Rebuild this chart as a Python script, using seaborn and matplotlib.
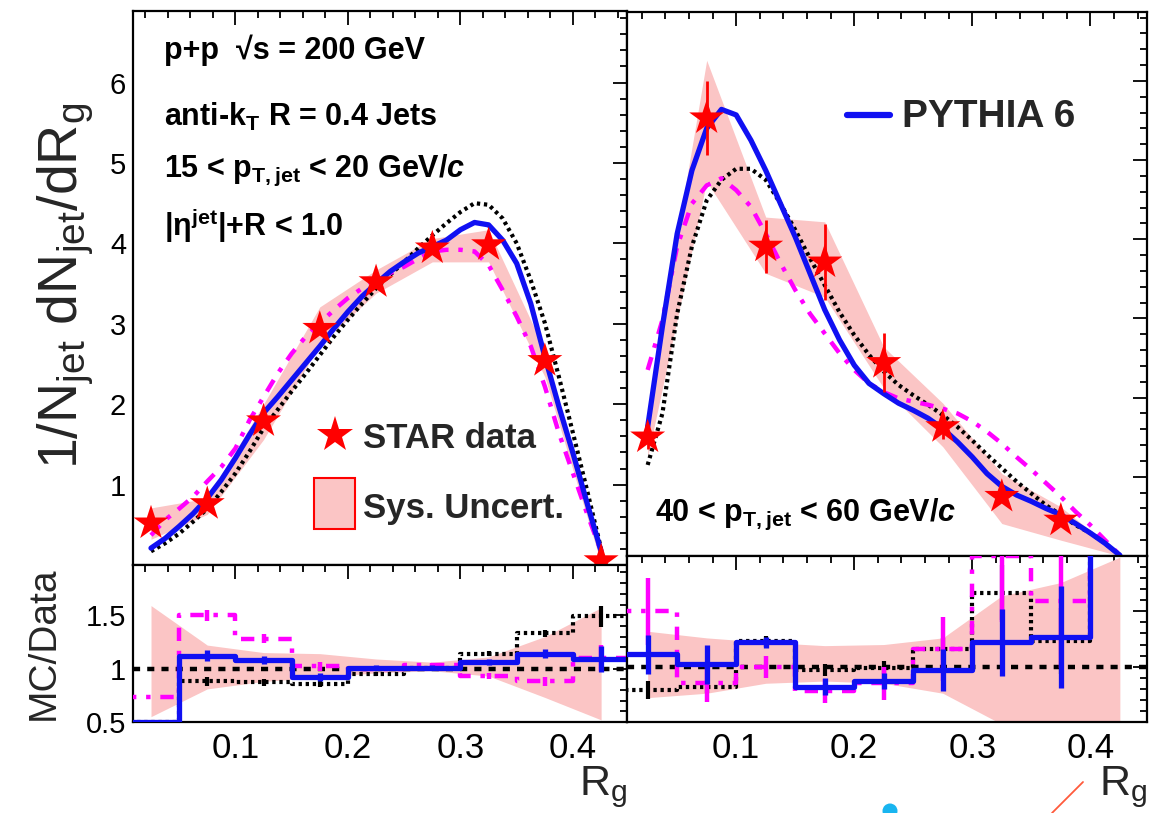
import numpy as np
import pandas as pd
import matplotlib
matplotlib.use("Agg")
import matplotlib.pyplot as plt
import seaborn as sns
from matplotlib.patches import Rectangle, Ellipse
from matplotlib.lines import Line2D
from matplotlib.ticker import MultipleLocator, FixedLocator

# ------------------------------------------------------------------ data
rg_centers = [0.025, 0.075, 0.125, 0.175, 0.225, 0.275, 0.325, 0.375, 0.425]
rg_edges = [0.0, 0.05, 0.10, 0.15, 0.20, 0.25, 0.30, 0.35, 0.40, 0.45]
curve_rg = [0.025, 0.0375, 0.05, 0.0625, 0.075, 0.0875, 0.10, 0.1125,
            0.125, 0.1375, 0.15, 0.1625, 0.175, 0.1875, 0.20, 0.2125,
            0.225, 0.2375, 0.25, 0.2625, 0.275, 0.2875, 0.30, 0.3125,
            0.325, 0.3375, 0.35, 0.3625, 0.375, 0.3875, 0.40, 0.4125, 0.425]

# 15 < pT < 20 GeV/c
low_star = [0.52, 0.76, 1.79, 2.94, 3.52, 3.94, 3.98, 2.54, 0.05]
low_stat = [0.03, 0.03, 0.04, 0.05, 0.05, 0.05, 0.06, 0.05, 0.02]
low_sys_lo = [0.32, 0.63, 1.56, 2.74, 3.38, 3.77, 3.77, 2.34, 0.02]
low_sys_hi = [0.71, 0.83, 2.00, 3.21, 3.67, 4.06, 4.17, 2.67, 0.08]
low_pythia6 = [0.21, 0.33, 0.48, 0.64, 0.83, 1.06, 1.33, 1.62, 1.89, 2.09,
               2.30, 2.51, 2.72, 2.94, 3.15, 3.34, 3.50, 3.65, 3.77, 3.88,
               3.96, 4.04, 4.17, 4.26, 4.23, 4.04, 3.75, 3.25, 2.59, 1.97,
               1.39, 0.77, 0.17]
low_black = [0.17, 0.27, 0.39, 0.54, 0.70, 0.91, 1.14, 1.41, 1.70, 1.93,
             2.16, 2.38, 2.61, 2.84, 3.05, 3.25, 3.44, 3.61, 3.77, 3.94,
             4.10, 4.25, 4.39, 4.50, 4.48, 4.31, 4.00, 3.54, 3.01, 2.34,
             1.64, 0.93, 0.20]
low_magenta = [0.37, 0.56, 0.70, 0.85, 1.04, 1.22, 1.45, 1.80, 2.09, 2.38,
               2.63, 2.84, 3.01, 3.17, 3.32, 3.44, 3.54, 3.63, 3.71, 3.81,
               3.90, 3.92, 3.92, 3.90, 3.73, 3.42, 3.09, 2.72, 2.22, 1.64,
               1.14, 0.64, 0.17]

low_ratio_pythia6 = [0.50, 1.12, 1.08, 0.92, 1.01, 1.01, 1.06, 1.14, 1.09]
low_ratio_black = [0.50, 0.88, 0.87, 0.86, 0.95, 1.01, 1.14, 1.33, 1.49]
low_ratio_magenta = [0.73, 1.50, 1.28, 1.02, 1.00, 1.03, 0.93, 0.88, 1.10]
low_ratio_err = [0.00, 0.05, 0.04, 0.04, 0.02, 0.02, 0.03, 0.04, 0.12]
low_ratio_band_lo = [0.55, 0.81, 0.88, 0.92, 0.96, 0.98, 0.93, 0.73, 0.52]
low_ratio_band_hi = [1.59, 1.22, 1.15, 1.14, 1.09, 1.06, 1.11, 1.30, 1.57]

# 40 < pT < 60 GeV/c
high_star = [1.50, 5.53, 3.91, 3.71, 2.44, 1.63, 0.75, 0.45]
high_stat = [0.15, 0.47, 0.33, 0.48, 0.37, 0.15, 0.06, 0.05]
high_sys_lo = [1.25, 4.73, 3.57, 3.27, 2.12, 1.38, 0.41, 0.20, 0.00]
high_sys_hi = [1.85, 6.26, 4.28, 4.22, 2.64, 1.93, 1.04, 0.62, 0.02]
high_pythia6 = [1.63, 2.90, 4.07, 4.87, 5.40, 5.64, 5.57, 5.25, 4.87, 4.45,
                4.03, 3.57, 3.11, 2.73, 2.41, 2.18, 2.05, 1.93, 1.84, 1.74,
                1.61, 1.44, 1.25, 1.04, 0.88, 0.77, 0.69, 0.60, 0.52, 0.41,
                0.29, 0.16, 0.01]
high_black = [1.15, 1.80, 3.06, 3.91, 4.49, 4.75, 4.89, 4.89, 4.75, 4.45,
              4.12, 3.76, 3.42, 3.08, 2.79, 2.54, 2.33, 2.16, 2.03, 1.91,
              1.78, 1.63, 1.46, 1.28, 1.11, 0.94, 0.79, 0.64, 0.52, 0.39,
              0.29, 0.16, 0.01]
high_magenta = [2.35, 2.98, 3.91, 4.45, 4.68, 4.77, 4.62, 4.41, 4.07, 3.70,
                3.36, 3.06, 2.81, 2.56, 2.35, 2.18, 2.07, 1.99, 1.95, 1.91,
                1.86, 1.80, 1.70, 1.57, 1.42, 1.25, 1.09, 0.92, 0.75, 0.56,
                0.39, 0.20, 0.01]

high_ratio_pythia6 = [1.11, 1.02, 1.22, 0.82, 0.87, 0.97, 1.22, 1.27, 2.30]
high_ratio_black = [0.79, 0.82, 1.23, 0.97, 0.99, 1.16, 1.67, 1.23, 2.30]
high_ratio_magenta = [1.50, 0.85, 1.00, 0.78, 0.85, 1.16, 2.00, 1.59, 2.30]
high_ratio_err_p6 = [0.18, 0.18, 0.05, 0.08, 0.07, 0.19, 0.30, 0.46, 0.0]
high_ratio_err_mag = [0.30, 0.17, 0.10, 0.11, 0.15, 0.29, 0.60, 0.60, 0.0]
high_ratio_err_black = [0.08, 0.06, 0.05, 0.05, 0.06, 0.10, 0.25, 0.30, 0.0]
high_ratio_band_lo = [0.72, 0.76, 0.85, 0.87, 0.85, 0.76, 0.48, 0.30, 0.10]
high_ratio_band_hi = [1.32, 1.26, 1.22, 1.19, 1.20, 1.26, 1.64, 1.76, 1.99]

# ------------------------------------------------------------------ style
sns.set_theme(style="white")
plt.rcParams['font.family'] = ['Liberation Sans', 'DejaVu Sans']
plt.rcParams['mathtext.fontset'] = 'custom'
plt.rcParams['mathtext.rm'] = 'Liberation Sans'
plt.rcParams['mathtext.it'] = 'Liberation Sans:italic:bold'
plt.rcParams['mathtext.bf'] = 'Liberation Sans:bold'
plt.rcParams['mathtext.default'] = 'regular'

BLUE = '#1010f2'
MAG = '#ff00ff'
RED = '#ff0000'
PINK = '#fbc5c5'

W, H = 1162, 813
def fx(px):
    return px / W
def fy(py):
    return 1 - py / H

fig = plt.figure(figsize=(W / 100, H / 100), dpi=100)
ax_lt = fig.add_axes([fx(133), fy(565), (627 - 133) / W, (565 - 11) / H])
ax_lr = fig.add_axes([fx(133), fy(722), (627 - 133) / W, (722 - 565) / H])
ax_rt = fig.add_axes([fx(627), fy(556), (1147 - 627) / W, (556 - 12) / H])
ax_rr = fig.add_axes([fx(627), fy(722), (1147 - 627) / W, (722 - 556) / H])

DOT = (0, (0.8, 0.9))
DASHDOT = (0, (3.0, 2.2, 1.0, 2.2))


def draw_top(ax, star_x, star, stat, lo, hi, p6, blk, mag):
    ax.fill_between(rg_centers, lo, hi, color=PINK, lw=0, zorder=1)
    sns.lineplot(x=curve_rg, y=blk, ax=ax, color='black', linewidth=3.0,
                 linestyle=DOT, zorder=3, estimator=None)
    sns.lineplot(x=curve_rg, y=mag, ax=ax, color=MAG, linewidth=3.2,
                 linestyle=DASHDOT, zorder=3, estimator=None)
    sns.lineplot(x=curve_rg, y=p6, ax=ax, color=BLUE, linewidth=3.8,
                 zorder=4, estimator=None)
    ax.errorbar(star_x, star, yerr=stat, fmt='none', ecolor=RED,
                elinewidth=2, zorder=5)
    sns.scatterplot(x=star_x, y=star, ax=ax, marker='*', s=700, color=RED,
                    edgecolor='none', zorder=6, legend=False)


def steps(ax, vals, color, ls, lw, err=None, z=3):
    yy = list(vals) + [vals[-1]]
    sns.lineplot(x=rg_edges, y=yy, ax=ax, color=color, linewidth=lw,
                 linestyle=ls, drawstyle='steps-post', zorder=z,
                 estimator=None)
    if err is not None:
        ax.errorbar(rg_centers, vals, yerr=err, fmt='none', ecolor=color,
                    elinewidth=lw, zorder=z)


def draw_ratio(ax, blo, bhi, p6, blk, mag, e_p6, e_blk, e_mag):
    ax.fill_between(rg_centers, blo, bhi, color=PINK, lw=0, zorder=1)
    ax.axhline(1.0, color='black', linestyle=(0, (1.6, 1.6)), lw=3.2,
               zorder=2)
    steps(ax, blk, 'black', DOT, 3.0, e_blk, z=3)
    steps(ax, mag, MAG, DASHDOT, 3.2, e_mag, z=3)
    steps(ax, p6, BLUE, '-', 3.8, e_p6, z=4)


draw_top(ax_lt, rg_centers, low_star, low_stat, low_sys_lo, low_sys_hi,
         low_pythia6, low_black, low_magenta)
draw_top(ax_rt, rg_centers[:8], high_star, high_stat, high_sys_lo,
         high_sys_hi, high_pythia6, high_black, high_magenta)
draw_ratio(ax_lr, low_ratio_band_lo, low_ratio_band_hi, low_ratio_pythia6,
           low_ratio_black, low_ratio_magenta, low_ratio_err,
           [e * 0.8 for e in low_ratio_err], low_ratio_err)
draw_ratio(ax_rr, high_ratio_band_lo, high_ratio_band_hi, high_ratio_pythia6,
           high_ratio_black, high_ratio_magenta, high_ratio_err_p6,
           high_ratio_err_black, high_ratio_err_mag)

# ------------------------------------------------------------------ axes
ax_lt.set_xlim(0.009, 0.448)
ax_lr.set_xlim(0.009, 0.448)
ax_rt.set_xlim(0.0075, 0.448)
ax_rr.set_xlim(0.0075, 0.448)
ax_lt.set_ylim(0, 6.89)
ax_rt.set_ylim(0, 6.87)
ax_lr.set_ylim(0.5, 1.97)
ax_rr.set_ylim(0.5, 2.0)

for ax in (ax_lt, ax_lr, ax_rt, ax_rr):
    for sp in ax.spines.values():
        sp.set_color('black')
        sp.set_linewidth(1.6)
    ax.set_xlabel('')
    ax.set_ylabel('')
    ax.xaxis.set_major_locator(FixedLocator([0.1, 0.2, 0.3, 0.4]))
    ax.xaxis.set_minor_locator(MultipleLocator(0.02))
    ax.tick_params(which='both', direction='in', top=True, right=True,
                   color='black', width=1.3, labelcolor='black')
    ax.tick_params(which='major', length=10)
    ax.tick_params(which='minor', length=5)
    ax.tick_params(axis='x', pad=7, labelsize=25)
    ax.tick_params(axis='y', pad=5, labelsize=21)
    ax.set_facecolor('white')

for ax in (ax_lt, ax_rt):
    ax.yaxis.set_major_locator(FixedLocator([1, 2, 3, 4, 5, 6]))
    ax.yaxis.set_minor_locator(MultipleLocator(0.2))
    ax.tick_params(labelbottom=False)
for ax in (ax_lr, ax_rr):
    ax.yaxis.set_major_locator(FixedLocator([0.5, 1.0, 1.5]))
    ax.yaxis.set_minor_locator(MultipleLocator(0.1))
    ax.set_xticklabels(['0.1', '0.2', '0.3', '0.4'])
ax_lr.set_yticklabels(['0.5', '1', '1.5'])
ax_lt.set_yticklabels(['1', '2', '3', '4', '5', '6'])
ax_rt.tick_params(labelleft=False)
ax_rr.tick_params(labelleft=False)

ax_lt.set_ylabel(r'1/N$_{jet}$ dN$_{jet}$/dR$_{g}$', fontsize=40)
ax_lt.yaxis.set_label_coords(-0.075, 0.505)
ax_lr.set_ylabel('MC/Data', fontsize=28)
ax_lr.yaxis.set_label_coords(-0.145, 0.5)
for ax in (ax_lr, ax_rr):
    ax.set_xlabel(r'R$_{g}$', fontsize=31, loc='right', labelpad=0)

# ------------------------------------------------------------------ text
bold = dict(fontweight='bold', fontsize=22, color='black')
fig.text(fx(164), fy(59), 'p+p  \u221as = 200 GeV', va='baseline', **bold)
fig.text(fx(164), fy(126), r'anti-k$_{T}$ R = 0.4 Jets', va='baseline', **bold)
fig.text(fx(164), fy(177), r'15 < p$_{T,jet}$ < 20 GeV/$\it{c}$',
         va='baseline', **bold)
fig.text(fx(164), fy(236), r'|$\eta^{jet}$|+R < 1.0', va='baseline', **bold)
fig.text(fx(655), fy(521), r'40 < p$_{T,jet}$ < 60 GeV/$\it{c}$',
         va='baseline', **bold)

# legends (drawn as handles + text)
fig.add_artist(Line2D([fx(335)], [fy(435)], marker='*', markersize=27,
                      color=RED, markeredgewidth=0, linestyle='none'))
fig.text(fx(363), fy(448), 'STAR data', fontsize=25, fontweight='bold',
         va='baseline')
fig.add_artist(Rectangle((fx(314), fy(529)), (355 - 314) / W, (529 - 478) / H,
                         facecolor=PINK, edgecolor=RED, lw=1.5,
                         transform=fig.transFigure))
fig.text(fx(363), fy(518), 'Sys. Uncert.', fontsize=25, fontweight='bold',
         va='baseline')

fig.add_artist(Line2D([fx(847), fx(890)], [fy(115), fy(115)], color=BLUE,
                      lw=4.5))
fig.text(fx(902), fy(127), 'PYTHIA 6', fontsize=28, fontweight='bold',
         va='baseline')

# stray marks at the bottom of the source image
fig.add_artist(Ellipse((fx(890), fy(811)), 15 / W, 15 / H,
                       facecolor='#19b5f0', edgecolor='none',
                       transform=fig.transFigure))
fig.add_artist(Line2D([fx(1052), fx(1083)], [fy(813), fy(782)],
                      color='#ff5a3c', lw=1.3))

fig.savefig('out.png', dpi=100, facecolor='white')
